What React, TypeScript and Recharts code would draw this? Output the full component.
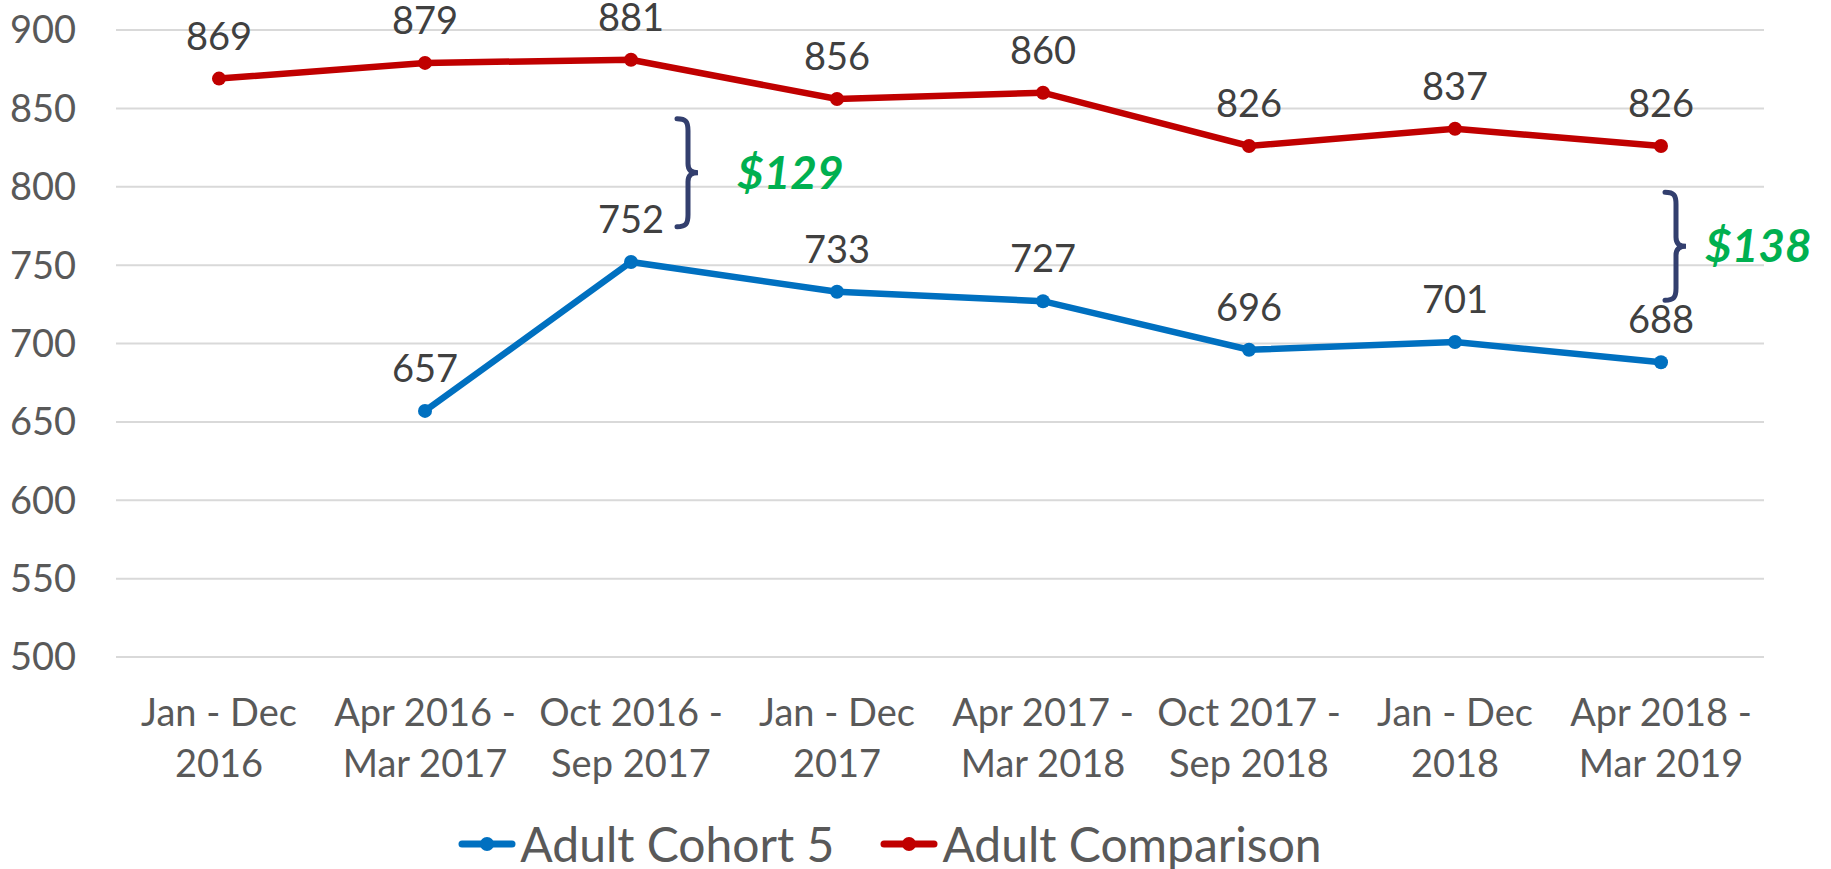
import React from "react";
import {
  LineChart,
  Line,
  XAxis,
  YAxis,
  CartesianGrid,
  Legend,
  LabelList,
  ReferenceDot,
} from "recharts";

const periods = [
  "Jan - Dec|2016",
  "Apr 2016 -|Mar 2017",
  "Oct 2016 -|Sep 2017",
  "Jan - Dec|2017",
  "Apr 2017 -|Mar 2018",
  "Oct 2017 -|Sep 2018",
  "Jan - Dec|2018",
  "Apr 2018 -|Mar 2019",
];
const cohort5 = [null, 657, 752, 733, 727, 696, 701, 688];
const comparison = [869, 879, 881, 856, 860, 826, 837, 826];
const yTicks = [500, 550, 600, 650, 700, 750, 800, 850, 900];

// gap notes: period index, value at brace middle, text
const noteIdx = [2, 7];
const noteVal = [809, 762];
const noteText = ["$129", "$138"];
// how far right of the point the brace / text sit
const braceDx = [46, 4];
const textDx = [60, 40];

const FONT = "Lato, 'Open Sans', sans-serif";
const BLUE = "#0070C0";
const RED = "#C00000";

const rows = periods.map((p, i) => ({
  period: p,
  cohort: cohort5[i],
  comparison: comparison[i],
}));

function PeriodTick(props: any) {
  const { x, y, payload } = props;
  const [a, b] = String(payload.value).split("|");
  return (
    <text x={x} textAnchor="middle" fill="#595959" fontSize={38} fontFamily={FONT}>
      <tspan x={x} y={y + 69}>{a}</tspan>
      <tspan x={x} y={y + 120}>{b}</tspan>
    </text>
  );
}

function Brace(props: any) {
  const { cx, cy, label, bdx, tdx } = props;
  const x0 = cx + bdx;
  const h = 108;
  const t = cy - h / 2;
  const d = `M ${x0} ${t} C ${x0 + 9} ${t} ${x0 + 11} ${t + 3} ${x0 + 11} ${t + 12}
    L ${x0 + 11} ${cy - 9} C ${x0 + 11} ${cy - 2} ${x0 + 15} ${cy} ${x0 + 21} ${cy}
    C ${x0 + 15} ${cy} ${x0 + 11} ${cy + 2} ${x0 + 11} ${cy + 9}
    L ${x0 + 11} ${t + h - 12} C ${x0 + 11} ${t + h - 3} ${x0 + 9} ${t + h} ${x0} ${t + h}`;
  return (
    <g>
      <path d={d} fill="none" stroke="#333F6E" strokeWidth={5} strokeLinecap="round" />
      <text
        x={x0 + tdx}
        y={cy + 16}
        fill="#00B050"
        fontSize={46}
        fontWeight={700}
        fontStyle="italic"
        fontFamily={FONT}
      >
        {label}
      </text>
    </g>
  );
}

function LegendBox() {
  const items = [
    { name: "Adult Cohort 5", color: BLUE },
    { name: "Adult Comparison", color: RED },
  ];
  return (
    <div style={{ display: "flex", justifyContent: "center", paddingLeft: 16 }}>
      {items.map((it, i) => (
        <div
          key={it.name}
          style={{ display: "flex", alignItems: "center", marginRight: i === 0 ? 46 : 0 }}
        >
          <svg width={58} height={20} style={{ marginRight: 4 }}>
            <line x1={4} y1={10} x2={54} y2={10} stroke={it.color} strokeWidth={7} strokeLinecap="round" />
            <circle cx={29} cy={10} r={7} fill={it.color} />
          </svg>
          <span style={{ fontFamily: FONT, fontSize: 48, color: "#595959", lineHeight: "50px" }}>
            {it.name}
          </span>
        </div>
      ))}
    </div>
  );
}

export default function App() {
  return (
    <div style={{ position: "absolute", left: 0, top: 0, background: "#fff" }}>
      <LineChart
        width={1831}
        height={869}
        data={rows}
        margin={{ top: 30, right: 67, left: 0, bottom: 0 }}
      >
        <CartesianGrid vertical={false} stroke="#D9D9D9" strokeWidth={2} />
        <XAxis
          dataKey="period"
          axisLine={false}
          tickLine={false}
          tickSize={0}
          tickMargin={0}
          height={162}
          interval={0}
          padding={{ left: 103, right: 103 }}
          tick={<PeriodTick />}
        />
        <YAxis
          domain={[500, 900]}
          ticks={yTicks}
          width={116}
          axisLine={false}
          tickLine={false}
          tickSize={0}
          tickMargin={40}
          tick={{ fill: "#595959", fontSize: 38, fontFamily: FONT }}
        />
        <Legend verticalAlign="bottom" height={50} content={<LegendBox />} />
        <Line
          name="Adult Cohort 5"
          dataKey="cohort"
          stroke={BLUE}
          strokeWidth={6.5}
          dot={{ r: 7, fill: BLUE, stroke: BLUE, strokeWidth: 0 }}
          activeDot={false}
          isAnimationActive={false}
        >
          <LabelList dataKey="cohort" position="top" offset={29} fill="#404040" fontSize={38} fontFamily={FONT} />
        </Line>
        <Line
          name="Adult Comparison"
          dataKey="comparison"
          stroke={RED}
          strokeWidth={6.5}
          dot={{ r: 7, fill: RED, stroke: RED, strokeWidth: 0 }}
          activeDot={false}
          isAnimationActive={false}
        >
          <LabelList dataKey="comparison" position="top" offset={29} fill="#404040" fontSize={38} fontFamily={FONT} />
        </Line>
        {noteIdx.map((idx, k) => (
          <ReferenceDot
            key={noteText[k]}
            x={periods[idx]}
            y={noteVal[k]}
            ifOverflow="visible"
            shape={(p: any) => (
              <Brace {...p} label={noteText[k]} bdx={braceDx[k]} tdx={textDx[k]} />
            )}
          />
        ))}
      </LineChart>
    </div>
  );
}
